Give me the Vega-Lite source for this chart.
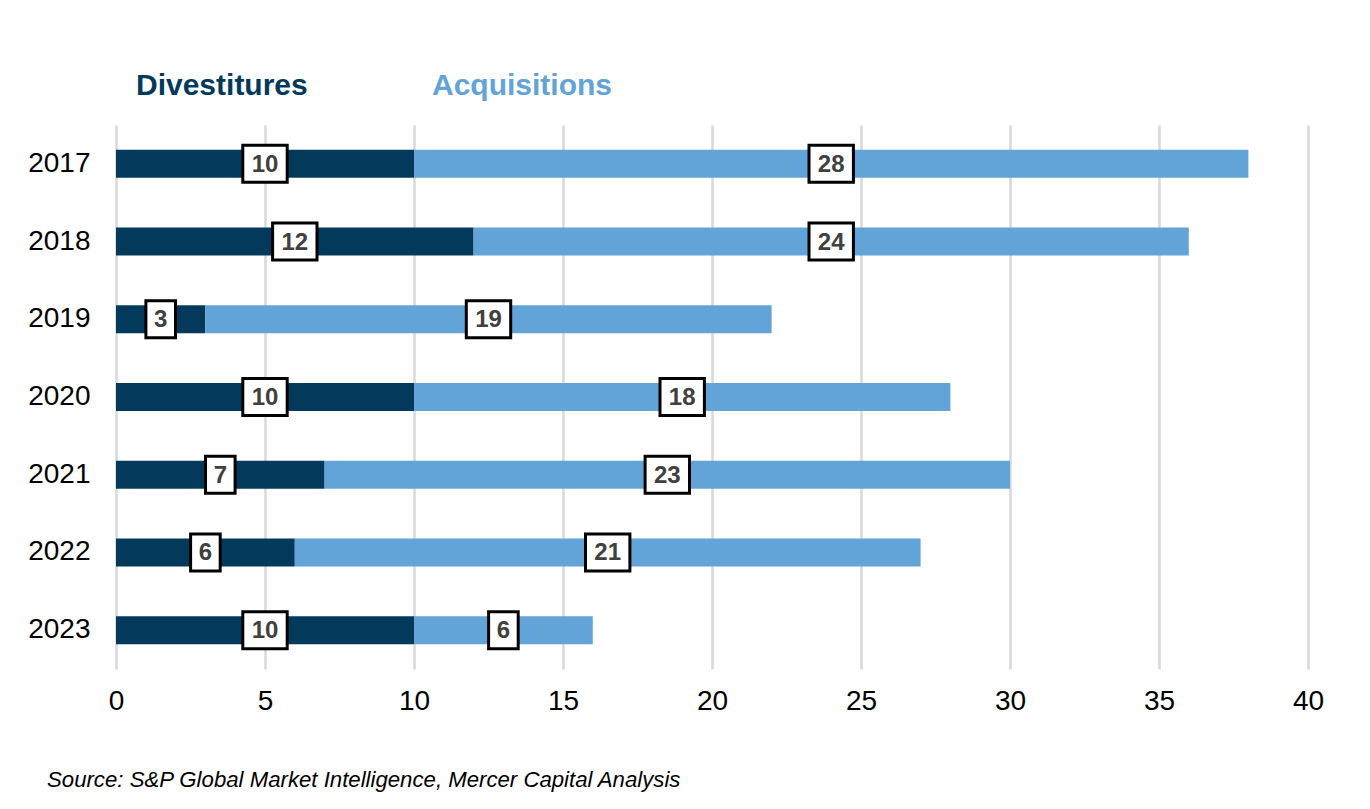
{
  "$schema": "https://vega.github.io/schema/vega-lite/v6.json",
  "width": 1192,
  "height": 544,
  "autosize": {"type": "none"},
  "padding": {"left": 116, "top": 125, "right": 62, "bottom": 140},
  "background": "white",
  "config": {
    "view": {"stroke": null},
    "font": "Liberation Sans"
  },
  "title": {
    "text": "Source: S&P Global Market Intelligence, Mercer Capital Analysis",
    "orient": "bottom",
    "anchor": "start",
    "frame": "group",
    "dx": -69,
    "offset": 54,
    "fontSize": 22.2,
    "fontStyle": "italic",
    "fontWeight": "normal",
    "color": "#000000",
    "font": "Liberation Sans"
  },
  "data": {
    "values": [
      {"year": "2017", "type": "Divestitures", "value": 10},
      {"year": "2017", "type": "Acquisitions", "value": 28},
      {"year": "2018", "type": "Divestitures", "value": 12},
      {"year": "2018", "type": "Acquisitions", "value": 24},
      {"year": "2019", "type": "Divestitures", "value": 3},
      {"year": "2019", "type": "Acquisitions", "value": 19},
      {"year": "2020", "type": "Divestitures", "value": 10},
      {"year": "2020", "type": "Acquisitions", "value": 18},
      {"year": "2021", "type": "Divestitures", "value": 7},
      {"year": "2021", "type": "Acquisitions", "value": 23},
      {"year": "2022", "type": "Divestitures", "value": 6},
      {"year": "2022", "type": "Acquisitions", "value": 21},
      {"year": "2023", "type": "Divestitures", "value": 10},
      {"year": "2023", "type": "Acquisitions", "value": 6}
    ]
  },
  "transform": [
    {"stack": "value", "groupby": ["year"], "sort": [{"field": "type", "order": "descending"}], "as": ["v0", "v1"]},
    {"calculate": "(datum.v0 + datum.v1) / 2", "as": "mid"}
  ],
  "encoding": {
    "y": {
      "field": "year",
      "type": "nominal",
      "sort": "ascending",
      "scale": {"paddingInner": 0.64, "paddingOuter": 0.32},
      "axis": {
        "title": null,
        "domain": false,
        "ticks": false,
        "labelFontSize": 28,
        "labelColor": "#000000",
        "labelPadding": 26,
        "labelFont": "Liberation Sans"
      }
    }
  },
  "layer": [
    {
      "mark": {"type": "bar"},
      "encoding": {
        "x": {
          "field": "v0",
          "type": "quantitative",
          "scale": {"domain": [0, 40], "nice": false},
          "axis": {
            "title": null,
            "values": [0, 5, 10, 15, 20, 25, 30, 35, 40],
            "domain": false,
            "ticks": false,
            "grid": true,
            "gridColor": "#d9d9d9",
            "gridWidth": 2.5,
            "labelFlush": false,
            "labelFontSize": 28,
            "labelColor": "#000000",
            "labelPadding": 18,
            "labelFont": "Liberation Sans"
          }
        },
        "x2": {"field": "v1"},
        "color": {
          "field": "type",
          "type": "nominal",
          "scale": {"domain": ["Divestitures", "Acquisitions"], "range": ["#033a5c", "#62a3d8"]},
          "legend": {
            "title": null,
            "orient": "none",
            "direction": "horizontal",
            "legendX": -10,
            "legendY": -54,
            "symbolSize": 0,
            "symbolStrokeWidth": 0,
            "symbolOpacity": 0,
            "labelOffset": 0,
            "labelFontSize": 30,
            "labelFontWeight": "bold",
            "labelFont": "Liberation Sans",
            "labelLimit": 400,
            "columnPadding": 94,
            "encode": {
              "labels": {
                "update": {
                  "fill": {"signal": "datum.value === 'Divestitures' ? '#033a5c' : '#62a3d8'"}
                }
              }
            }
          }
        }
      }
    },
    {
      "mark": {"type": "point", "filled": false, "fill": "#ffffff", "stroke": "#000000", "strokeWidth": 3, "opacity": 1, "fillOpacity": 1, "strokeOpacity": 1, "size": 1369},
      "encoding": {
        "x": {"field": "mid", "type": "quantitative"},
        "shape": {
          "condition": {"test": "datum.value >= 10", "value": "M-1.2,-1L1.2,-1L1.2,1L-1.2,1Z"},
          "value": "M-0.8,-1L0.8,-1L0.8,1L-0.8,1Z"
        }
      }
    },
    {
      "mark": {"type": "text", "fontSize": 24, "fontWeight": "bold", "color": "#404040", "align": "center", "baseline": "middle", "dy": 1, "font": "Liberation Sans"},
      "encoding": {
        "x": {"field": "mid", "type": "quantitative"},
        "text": {"field": "value", "type": "quantitative"}
      }
    }
  ]
}
